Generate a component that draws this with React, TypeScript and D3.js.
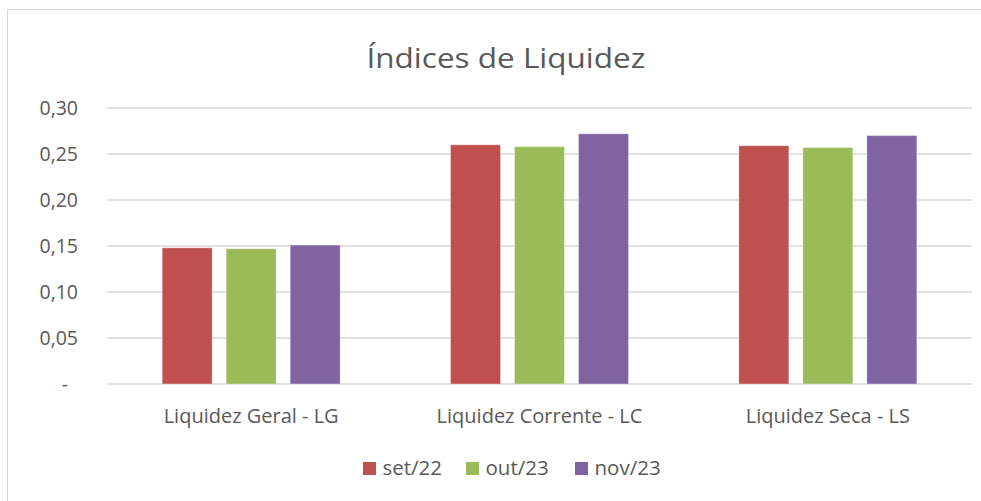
import React from "react";
import * as d3 from "d3";

const categories = ["Liquidez Geral - LG", "Liquidez Corrente - LC", "Liquidez Seca - LS"];
const seriesNames = ["set/22", "out/23", "nov/23"];
const set22 = [0.148, 0.26, 0.259];
const out23 = [0.147, 0.258, 0.257];
const nov23 = [0.151, 0.272, 0.27];
const yTicks = [0, 0.05, 0.1, 0.15, 0.2, 0.25, 0.3];
const colors = ["#C0504D", "#9BBB59", "#8064A2"];

const W = 981;
const H = 501;
const FONT = "'Open Sans', sans-serif";

export default function App() {
  const series = [set22, out23, nov23];
  const x0 = d3.scaleBand<string>().domain(categories).range([107, 972]).paddingInner(0).paddingOuter(0);
  const step = 64;
  const barW = 50;
  const y = d3.scaleLinear().domain([0, 0.3]).range([384, 108]);
  const fmt = (v: number) => (v === 0 ? "-" : d3.format(".2f")(v).replace(".", ","));

  const legendX = [363, 466, 575];

  return (
    <svg width={W} height={H} style={{ position: "absolute", left: 0, top: 0 }}>
      <rect x={0} y={0} width={W} height={H} fill="#fff" />
      <line x1={7.5} y1={9.5} x2={W} y2={9.5} stroke="#d9d9d9" />
      <line x1={7.5} y1={9.5} x2={7.5} y2={H} stroke="#d9d9d9" />
      <text x={506} y={67.5} textAnchor="middle" fontFamily={FONT} fontWeight={400} fontSize={28}
        textLength={279} lengthAdjust="spacingAndGlyphs" fill="#595959">
        Índices de Liquidez
      </text>
      {yTicks.map((t) => (
        <g key={t}>
          <line x1={107} x2={972} y1={y(t)} y2={y(t)} stroke="#d9d9d9" strokeWidth={1.5} />
          <text x={t === 0 ? 68 : 78} y={y(t)} dy="0.36em" textAnchor="end" fontFamily={FONT} fontSize={19.5} fill="#595959">
            {fmt(t)}
          </text>
        </g>
      ))}
      {categories.map((c, i) => {
        const cx = (x0(c) ?? 0) + x0.bandwidth() / 2;
        return (
          <g key={c}>
            {series.map((s, j) => {
              const bx = cx + (j - 1) * step - barW / 2;
              return (
                <rect
                  key={j}
                  x={bx}
                  y={y(s[i])}
                  width={barW}
                  height={y(0) - y(s[i])}
                  fill={colors[j]}
                  stroke="#ffffff"
                  strokeOpacity={0.35}
                  strokeWidth={1}
                />
              );
            })}
            <text x={cx} y={422.5} textAnchor="middle" fontFamily={FONT} fontSize={20} fill="#595959">
              {c}
            </text>
          </g>
        );
      })}
      {seriesNames.map((n, j) => (
        <g key={n}>
          <rect x={legendX[j]} y={462} width={13} height={13} fill={colors[j]} />
          <text x={legendX[j] + 19.5} y={475} fontFamily={FONT} fontSize={20.5} fill="#595959">
            {n}
          </text>
        </g>
      ))}
    </svg>
  );
}
